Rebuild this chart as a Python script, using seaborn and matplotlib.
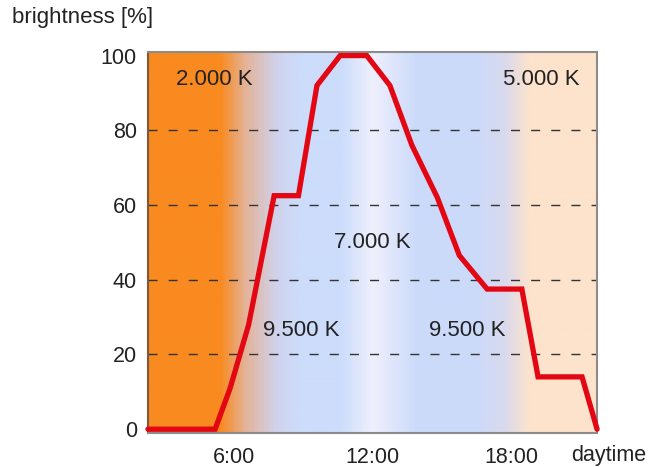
import numpy as np
import pandas as pd
import matplotlib
matplotlib.use("Agg")
import matplotlib.pyplot as plt
import seaborn as sns
from matplotlib.colors import LinearSegmentedColormap

# brightness curve over the day (hours, percent)
hours = [2.3, 5.2, 5.85, 6.65, 7.75, 8.8, 9.6, 10.6, 11.75, 12.75, 13.7, 14.8, 15.75, 16.95, 18.45, 19.15, 21.05, 21.7]
brightness = [0, 0, 11, 28, 62.5, 62.5, 92, 100, 100, 92, 76, 62, 46.5, 37.5, 37.5, 14, 14, 0]

# colour temperature background (hour, colour)
bg_hours = [2.3, 5.4, 6.5, 7.8, 8.8, 10.6, 12.0, 13.9, 16.5, 17.7, 18.8, 21.7]
bg_colors = ["#f98a20", "#f98a20", "#e3b39a", "#d1d2ec", "#ccdcfb", "#ccdcfb",
             "#eff0fd", "#ccdafa", "#ccdafa", "#d9d9ee", "#fde3cc", "#fde3cc"]

# colour temperature labels
temp_labels = ["2.000 K", "5.000 K", "7.000 K", "9.500 K", "9.500 K"]
temp_x = [5.15, 19.3, 12.0, 8.9, 16.1]
temp_y = [93.5, 93.5, 50, 26.5, 26.5]

xticks = [6, 12, 18]
xtick_labels = ["6:00", "12:00", "18:00"]
yticks = [0, 20, 40, 60, 80, 100]

sns.set_style("white")
plt.rcParams["font.family"] = ["Liberation Sans", "DejaVu Sans"]

fig = plt.figure(figsize=(6.49, 4.67), dpi=100)
ax = fig.add_axes([0.228, 0.073, 0.692, 0.816])

xmin, xmax = hours[0], hours[-1]
ymin, ymax = -1, 101

# background gradient
pos = [(h - xmin) / (xmax - xmin) for h in bg_hours]
cmap = LinearSegmentedColormap.from_list("daylight", list(zip(pos, bg_colors)))
grad = np.linspace(0, 1, 600).reshape(1, -1)
ax.imshow(grad, cmap=cmap, aspect="auto", extent=[xmin, xmax, ymin, ymax],
          origin="lower", zorder=0, interpolation="bilinear")

df = pd.DataFrame({"hour": hours, "brightness": brightness})
sns.lineplot(data=df, x="hour", y="brightness", ax=ax, color="#e30613",
             linewidth=3.8, zorder=3, solid_joinstyle="miter", clip_on=False)

for lbl, tx, ty in zip(temp_labels, temp_x, temp_y):
    ax.text(tx, ty, lbl, ha="center", va="center", fontsize=16, color="#222222")

ax.set_xlim(xmin, xmax)
ax.set_ylim(ymin, ymax)
ax.set_xticks(xticks)
ax.set_xticklabels(xtick_labels)
ax.set_yticks(yticks)
ax.tick_params(axis="both", length=0, labelsize=15.5, labelcolor="#222222")
ax.tick_params(axis="y", pad=8)
ax.tick_params(axis="x", pad=10)
ax.set_xlabel("")
ax.set_ylabel("")

for y in yticks[1:-1]:
    ax.axhline(y, color="#333333", linewidth=1.0, linestyle=(0, (6.5, 8)), zorder=1)

for side in ["left", "right", "top", "bottom"]:
    ax.spines[side].set_color("#8c8c8c")
    ax.spines[side].set_linewidth(1.5)
ax.spines["left"].set_color("#7a5a3a")

fig.text(12 / 649, 1 - 18 / 467, "brightness [%]", ha="left", va="center",
         fontsize=16, color="#222222")
fig.text(646 / 649, 1 - 455 / 467, "daytime", ha="right", va="center",
         fontsize=15.5, color="#222222")

fig.savefig("out.png", dpi=100)
